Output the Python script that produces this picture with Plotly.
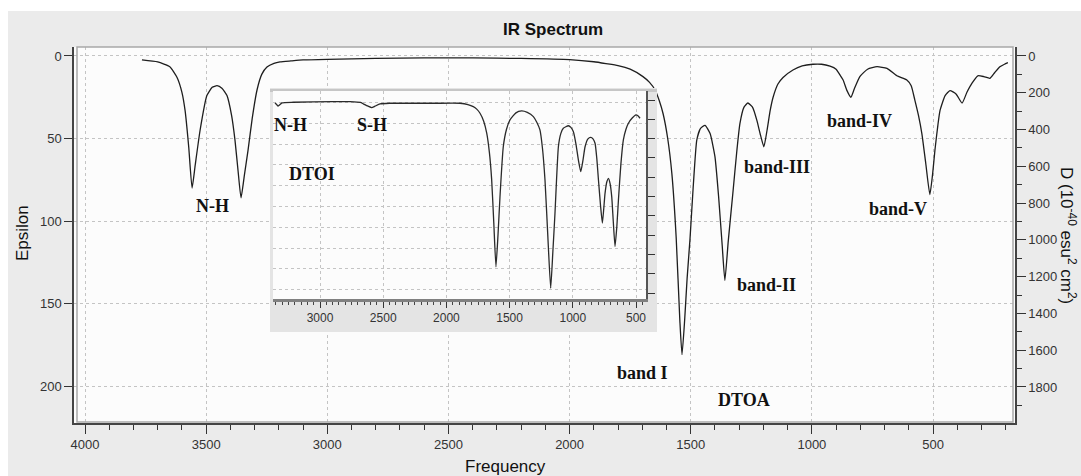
import plotly.graph_objects as go

# ---------------- data ----------------
main_freq = [3765, 3700, 3650, 3620, 3600, 3587, 3572, 3558, 3545, 3525, 3497, 3475, 3455, 3435, 3414,
             3395, 3381, 3368, 3356, 3342, 3327, 3310, 3290, 3270, 3249, 3220, 3195, 3150, 3100, 3000,
             2800, 2600, 2400, 2200, 2000, 1900, 1850, 1800, 1750, 1697, 1670, 1647, 1630, 1614, 1595,
             1578, 1560, 1545, 1536, 1525, 1515, 1503, 1490, 1475, 1460, 1441, 1420, 1400, 1385, 1370,
             1359, 1345, 1326, 1310, 1297, 1280, 1264, 1245, 1227, 1212, 1198, 1185, 1172, 1160, 1140,
             1119, 1078, 1040, 996, 960, 925, 900, 884, 871, 855, 839, 825, 802, 770, 731,
             690, 649, 608, 590, 575, 560, 546, 530, 513, 502, 492, 480, 471, 450, 430,
             405, 380, 360, 339, 315, 290, 265, 245, 224, 205, 191]
main_eps = [2.4, 3.6, 6.5, 13, 22, 33, 55, 80, 66, 45, 24, 19, 18, 19.5, 24,
            36, 51, 70, 86, 72, 57, 38, 20.6, 11, 6.7, 4.5, 3.6, 3, 2.4, 2.0,
            1.5, 1.2, 1.2, 1.5, 2.2, 3.5, 4.6, 5.8, 8, 12.5, 16, 20.6, 27, 35, 50,
            71, 110, 160, 181, 160, 135, 111, 80, 51, 44, 42, 47, 61, 85, 115,
            136, 112, 83, 58, 41, 31, 28.5, 31, 39, 48, 55, 45, 33, 25, 17,
            13, 8.5, 6, 5, 5, 6.2, 8, 11.5, 14.5, 21, 25, 20, 12.5, 8, 6.5,
            7.5, 12, 14.5, 18, 26.7, 36, 47, 65, 84, 72, 57, 42, 33, 24, 21,
            23, 28.5, 22, 16.5, 12, 12.5, 13.5, 10, 6.5, 5, 4]

inset_freq = [3356, 3340, 3332, 3320, 3300, 3211, 2900, 2763, 2680, 2657, 2620, 2591, 2565, 2525, 2450,
              2367, 2100, 1892, 1830, 1787, 1760, 1734, 1705, 1681, 1660, 1642, 1625, 1608, 1592, 1576,
              1550, 1525, 1497, 1450, 1405, 1360, 1312, 1285, 1260, 1240, 1220, 1197, 1175, 1158, 1141,
              1114, 1095, 1075, 1035, 1015, 996, 975, 955, 937, 920, 903, 880, 858, 840, 824,
              810, 797, 780, 766, 755, 745, 730, 718, 705, 692, 680, 666, 652, 639, 620,
              600, 580, 560, 530, 500, 485, 468]
inset_val = [0.3, 1.2, 1.8, 1.2, 0.2, -0.1, -0.4, -0.4, 0, 0.7, 1.8, 2.5, 1.8, 0.7, 0.4,
             0.4, 0.4, 0.4, 1.0, 2, 3.2, 5.2, 9, 14.8, 24, 37, 58, 79, 64, 45.3,
             21.3, 13, 8.4, 5, 4.1, 4.8, 6.8, 9.5, 13.2, 22, 37.3, 65, 89.3, 72, 53.3,
             21.3, 15, 12.4, 11.2, 12, 14, 20, 28, 33.3, 28, 21.3, 17.5, 16.8, 17.5, 19.6,
             27, 37.3, 50, 58, 51, 43.7, 38, 36.5, 39, 45.3, 57, 69.3, 60, 46.9, 30,
             18, 13, 10, 7.5, 6, 6.4, 7.6]

main_xticks = [4000, 3500, 3000, 2500, 2000, 1500, 1000, 500]
inset_xticks = [3000, 2500, 2000, 1500, 1000, 500]
eps_ticks = [0, 50, 100, 150, 200]
d_ticks = [0, 200, 400, 600, 800, 1000, 1200, 1400, 1600, 1800]

labels = [
    ("N-H", 212, 206), ("band I", 642, 373), ("band-II", 766, 285), ("band-III", 777, 167),
    ("band-IV", 859, 121), ("band-V", 898, 209), ("DTOA", 744, 400),
    ("N-H", 290, 125), ("S-H", 372, 125), ("DTOI", 312, 174),
]

# ---------------- geometry helpers (pixel -> paper) ----------------
W, H = 1081, 476
L, R, T, B = 74, 1015, 47, 423


def px(x):
    return (x - L) / (R - L)


def py(y):
    return (B - y) / (B - T)


AX_FONT = dict(family="Liberation Sans, Arial", size=13, color="#333333")
GRID = dict(showgrid=True, gridcolor="#c4c4c4", gridwidth=1, griddash="3px,3px")

fig = go.Figure()

# main spectrum
fig.add_trace(go.Scatter(x=main_freq, y=main_eps, mode="lines", xaxis="x", yaxis="y",
                         line=dict(color="#1e1e1e", width=1.3, shape="spline", smoothing=0.5),
                         hoverinfo="skip", showlegend=False))
# right axis placeholder
fig.add_trace(go.Scatter(x=[], y=[], xaxis="x", yaxis="y2", showlegend=False))

# inset frame (grey card behind the inset)
fig.add_trace(go.Scatter(x=[0, 1, 1, 0, 0], y=[0, 0, 1, 1, 0], mode="lines", fill="toself",
                         fillcolor="#e4e4e4", line=dict(width=0, color="#e4e4e4"),
                         xaxis="x3", yaxis="y3", hoverinfo="skip", showlegend=False))
fig.add_trace(go.Scatter(x=[0, 1], y=[0.99, 0.99], mode="lines",
                         line=dict(width=3, color="#c6c6c6"),
                         xaxis="x3", yaxis="y3", hoverinfo="skip", showlegend=False))

# inset spectrum
fig.add_trace(go.Scatter(x=inset_freq, y=inset_val, mode="lines", xaxis="x4", yaxis="y4",
                         line=dict(color="#2a2a2a", width=1.3, shape="spline", smoothing=0.5),
                         hoverinfo="skip", showlegend=False))
fig.add_trace(go.Scatter(x=[], y=[], xaxis="x4", yaxis="y5", showlegend=False))

fig.update_layout(
    width=W, height=H, autosize=False,
    margin=dict(l=L, r=W - R, t=T, b=H - B, pad=0),
    paper_bgcolor="#ebebeb", plot_bgcolor="#fcfcfc",
    showlegend=False,
    xaxis=dict(domain=[0, 1], range=[4045.4, 161.6], tickmode="array", tickvals=main_xticks,
               ticks="outside", ticklen=9, tickwidth=1, tickcolor="#333",
               showline=True, linecolor="#444", linewidth=1.5, zeroline=False,
               minor=dict(dtick=100, tick0=0, ticks="outside", ticklen=5, tickcolor="#333", showgrid=False),
               tickfont=AX_FONT, **GRID),
    yaxis=dict(domain=[0, 1], range=[222.4, -5.45], tickmode="array", tickvals=eps_ticks,
               ticks="outside", ticklen=8, tickwidth=1, tickcolor="#333",
               showline=True, linecolor="#444", linewidth=1.5, zeroline=False,
               tickfont=AX_FONT, **GRID),
    yaxis2=dict(overlaying="y", anchor="x", side="right", range=[1995.8, -48.9],
                tickmode="array", tickvals=d_ticks, ticks="outside", ticklen=9, tickcolor="#333",
                minor=dict(dtick=100, tick0=0, ticks="outside", ticklen=5, tickcolor="#333", showgrid=False),
                showline=True, linecolor="#444", linewidth=1.5, showgrid=False, zeroline=False,
                tickfont=AX_FONT),
    xaxis3=dict(domain=[px(270), px(657)], range=[0, 1], visible=False, anchor="y3", fixedrange=True),
    yaxis3=dict(domain=[py(332), py(88)], range=[0, 1], visible=False, anchor="x3", fixedrange=True),
    xaxis4=dict(domain=[px(273), px(646)], range=[3371.8, 420.9], anchor="y4",
                tickmode="array", tickvals=inset_xticks,
                ticks="outside", ticklen=6, tickcolor="#333",
                minor=dict(dtick=50, tick0=0, ticks="outside", ticklen=3, tickcolor="#444", showgrid=False),
                showline=True, linecolor="#808080", linewidth=2.5, zeroline=False,
                tickfont=dict(family="Liberation Sans, Arial", size=12, color="#333"), **GRID),
    yaxis4=dict(domain=[py(299), py(91)], range=[94.5, -5.5], anchor="x4", dtick=10, tick0=0,
                showticklabels=False, ticks="", zeroline=False, showline=False, **GRID),
    yaxis5=dict(overlaying="y4", anchor="x4", side="right", range=[10.31, -0.47], dtick=1, tick0=0,
                ticks="outside", ticklen=7, tickcolor="#333", showticklabels=False,
                showline=True, linecolor="#555", linewidth=1.5, showgrid=False, zeroline=False),
)

shapes = [
    # white strips at top and left of the image
    dict(type="rect", xref="paper", yref="paper", x0=px(0), x1=px(W), y0=py(11), y1=py(0),
         fillcolor="white", line=dict(width=0), layer="below"),
    dict(type="rect", xref="paper", yref="paper", x0=px(0), x1=px(8), y0=py(H), y1=py(0),
         fillcolor="white", line=dict(width=0), layer="below"),
    # plot frame
    dict(type="rect", xref="paper", yref="paper", x0=px(77), x1=px(1013), y0=py(422), y1=py(47),
         line=dict(color="#a8a8a8", width=1.5), fillcolor="rgba(0,0,0,0)", layer="above"),
]

annotations = [
    dict(text="<b>IR Spectrum</b>", x=px(553), y=py(29), xref="paper", yref="paper", showarrow=False,
         xanchor="center", yanchor="middle",
         font=dict(family="Liberation Sans, Arial", size=17, color="#111")),
    dict(text="Frequency", x=px(505), y=py(466), xref="paper", yref="paper", showarrow=False,
         xanchor="center", yanchor="middle",
         font=dict(family="Liberation Sans, Arial", size=17, color="#111")),
    dict(text="Epsilon", x=px(22), y=py(233), xref="paper", yref="paper", showarrow=False,
         xanchor="center", yanchor="middle", textangle=-90,
         font=dict(family="Liberation Sans, Arial", size=17, color="#111")),
    dict(text="D (10<sup>-40</sup> esu<sup>2</sup> cm<sup>2</sup>)", x=px(1068), y=py(235),
         xref="paper", yref="paper", showarrow=False, xanchor="center", yanchor="middle", textangle=90,
         font=dict(family="Liberation Sans, Arial", size=17, color="#111")),
]
for txt, x, y in labels:
    annotations.append(dict(text="<b>" + txt + "</b>", x=px(x), y=py(y), xref="paper", yref="paper",
                            showarrow=False, xanchor="center", yanchor="middle",
                            font=dict(family="Liberation Serif, Times New Roman", size=18, color="#111")))

fig.update_layout(shapes=shapes, annotations=annotations)
fig.write_html("out.html")
